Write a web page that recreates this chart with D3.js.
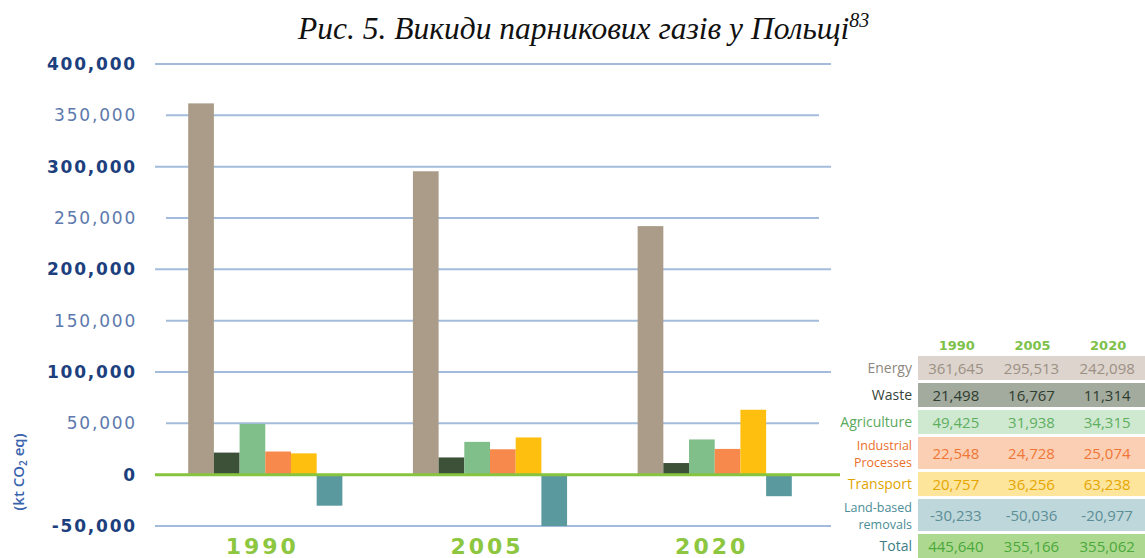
<!DOCTYPE html>
<html>
<head>
<meta charset="utf-8">
<script src="https://cdn.jsdelivr.net/npm/d3@7"></script>
<style>
  html, body { margin: 0; padding: 0; background: #ffffff; }
  svg { display: block; }
</style>
</head>
<body>
<svg id="chart" width="1145" height="558"></svg>
<script>
// ---- data ----
const years = ["1990", "2005", "2020"];
const sectors = ["Energy", "Waste", "Agriculture", "Industrial Processes", "Transport", "Land-based removals"];
const energy = [361645, 295513, 242098];
const waste = [21498, 16767, 11314];
const agriculture = [49425, 31938, 34315];
const industrial = [22548, 24728, 25074];
const transport = [20757, 36256, 63238];
const landBased = [-30233, -50036, -20977];
const totals = [445640, 355166, 355062];
const yTicks = [-50000, 0, 50000, 100000, 150000, 200000, 250000, 300000, 350000, 400000];
const majorTicks = [-50000, 0, 100000, 200000, 300000, 400000];
const tableLabels = [["Energy"], ["Waste"], ["Agriculture"], ["Industrial", "Processes"], ["Transport"], ["Land-based", "removals"], ["Total"]];

const seriesValues = [energy, waste, agriculture, industrial, transport, landBased];
const barColors = ["#aa9c88", "#3d5038", "#80bf89", "#f6894b", "#ffbf0f", "#5a9a9f"];
const rowBg = ["#ddd4cd", "#a3ab9f", "#cfe9d0", "#fbcfb3", "#fee59c", "#bed7da", "#acd98f"];
const rowValColor = ["#9c9084", "#2f3c2e", "#5eae60", "#f07636", "#e6a600", "#5b8e96", "#4ba83c"];
const rowLabColor = ["#8e8780", "#34443a", "#5aa95d", "#ea6f2c", "#e0a400", "#4b8d96", "#3f7e86"];

const svg = d3.select("#chart");

// ---- title ----
const title = svg.append("text")
  .attr("x", 298).attr("y", 39)
  .attr("font-family", "Liberation Serif, Times New Roman, serif")
  .attr("font-style", "italic")
  .attr("font-size", 31.5)
  .attr("fill", "#111");
title.append("tspan").text("Рис. 5. Викиди парникових газів у Польщі");
title.append("tspan").attr("dy", -12).attr("font-size", 20).text("83");

// ---- scales ----
const y = d3.scaleLinear().domain([-50000, 400000]).range([526, 64]);
const x = d3.scaleBand().domain(years).range([150, 830]).paddingInner(0.314).paddingOuter(0.17);
const xs = d3.scaleBand().domain(sectors).range([0, x.bandwidth()]).padding(0);

// ---- gridlines ----
const grid = svg.append("g");
grid.selectAll("line.g")
  .data(yTicks.filter(d => d !== 0))
  .join("line")
  .attr("x1", d => majorTicks.includes(d) ? 155 : 166)
  .attr("x2", d => majorTicks.includes(d) ? 831 : 819)
  .attr("y1", d => y(d)).attr("y2", d => y(d))
  .attr("stroke", "#a3bcdc").attr("stroke-width", 2);

// ---- bars ----
const barData = [];
years.forEach((yr, i) => sectors.forEach((s, j) => barData.push({ yr, s, v: seriesValues[j][i], c: barColors[j] })));
svg.append("g").selectAll("rect")
  .data(barData)
  .join("rect")
  .attr("x", d => x(d.yr) + xs(d.s))
  .attr("width", xs.bandwidth())
  .attr("y", d => y(Math.max(0, d.v)))
  .attr("height", d => Math.abs(y(d.v) - y(0)))
  .attr("fill", d => d.c);

// ---- zero line ----
svg.append("line")
  .attr("x1", 155).attr("x2", 840)
  .attr("y1", y(0)).attr("y2", y(0))
  .attr("stroke", "#86c440").attr("stroke-width", 3);

// ---- y axis labels ----
const yAxis = d3.axisLeft(y).tickValues(yTicks).tickSize(0).tickPadding(0)
  .tickFormat(d => d3.format(",")(d).replace("−", "-"));
const ya = svg.append("g").attr("transform", "translate(137,0)").call(yAxis);
ya.select(".domain").remove();
ya.selectAll("text")
  .attr("font-family", "DejaVu Sans, Verdana, sans-serif")
  .attr("font-size", 17)
  .attr("letter-spacing", 1.8)
  .attr("font-weight", d => majorTicks.includes(d) ? "bold" : "normal")
  .attr("fill", d => majorTicks.includes(d) ? "#1d3f7e" : "#5d79ad");

// y axis title
const yt = svg.append("text")
  .attr("transform", "translate(24,472) rotate(-90)")
  .attr("text-anchor", "middle")
  .attr("font-family", "Open Sans, sans-serif")
  .attr("font-size", 15)
  .attr("font-weight", 600)
  .attr("fill", "#3a63ad");
yt.append("tspan").text("(kt CO");
yt.append("tspan").attr("font-size", 10).attr("dy", 3).text("2");
yt.append("tspan").attr("dy", -3).text(" eq)");

// ---- x axis labels ----
svg.append("g").selectAll("text")
  .data(years)
  .join("text")
  .attr("x", d => x(d) + x.bandwidth() / 2 - 3)
  .attr("y", 554)
  .attr("text-anchor", "middle")
  .attr("font-family", "DejaVu Sans, Verdana, sans-serif")
  .attr("font-weight", "bold")
  .attr("font-size", 22)
  .attr("letter-spacing", 3)
  .attr("fill", "#8dc63f")
  .text(d => d);

// ---- data table ----
const tx = d3.scaleBand().domain(years).range([918, 1145]);
const tableRows = tableLabels.map((lab, i) => ({
  lab,
  vals: i < 6 ? seriesValues[i] : totals,
  bg: rowBg[i], vc: rowValColor[i], lc: rowLabColor[i]
}));
let cy = 356;
tableRows.forEach(r => { r.h = r.lab.length > 1 ? 32 : 24; r.y = cy; cy += r.h + 3; });

const tbl = svg.append("g");
tbl.selectAll("text.head")
  .data(years)
  .join("text")
  .attr("class", "head")
  .attr("x", d => tx(d) + tx.bandwidth() / 2 + 1)
  .attr("y", 350)
  .attr("text-anchor", "middle")
  .attr("font-family", "DejaVu Sans, Verdana, sans-serif")
  .attr("font-weight", "bold")
  .attr("font-size", 13)
  .attr("fill", "#7dc14a")
  .text(d => d);

const rowG = tbl.selectAll("g.row").data(tableRows).join("g").attr("class", "row");
rowG.append("rect")
  .attr("x", 918).attr("width", 1145 - 918)
  .attr("y", d => d.y).attr("height", d => d.h)
  .attr("fill", d => d.bg);
rowG.each(function (r) {
  const g = d3.select(this);
  if (r.lab.length === 1) {
    g.append("text")
      .attr("x", 912).attr("y", r.y + r.h / 2 + 5)
      .attr("text-anchor", "end")
      .attr("font-family", "Open Sans, sans-serif")
      .attr("font-size", 14)
      .attr("fill", r.lc)
      .text(r.lab[0]);
  } else {
    g.selectAll("text.lab")
      .data(r.lab)
      .join("text")
      .attr("class", "lab")
      .attr("x", 912)
      .attr("y", (d, k) => r.y + 13 + k * 17)
      .attr("text-anchor", "end")
      .attr("font-family", "Open Sans, sans-serif")
      .attr("font-size", 12.5)
      .attr("fill", r.lc)
      .text(d => d);
  }
  g.selectAll("text.val")
    .data(years.map((yr, i) => ({ yr, v: r.vals[i] })))
    .join("text")
    .attr("class", "val")
    .attr("x", d => tx(d.yr) + tx.bandwidth() / 2)
    .attr("y", r.y + r.h / 2 + 6)
    .attr("text-anchor", "middle")
    .attr("font-family", "Open Sans, sans-serif")
    .attr("font-size", 15)
    .attr("fill", r.vc)
    .text(d => d3.format(",")(d.v).replace("−", "-"));
});
</script>
</body>
</html>
